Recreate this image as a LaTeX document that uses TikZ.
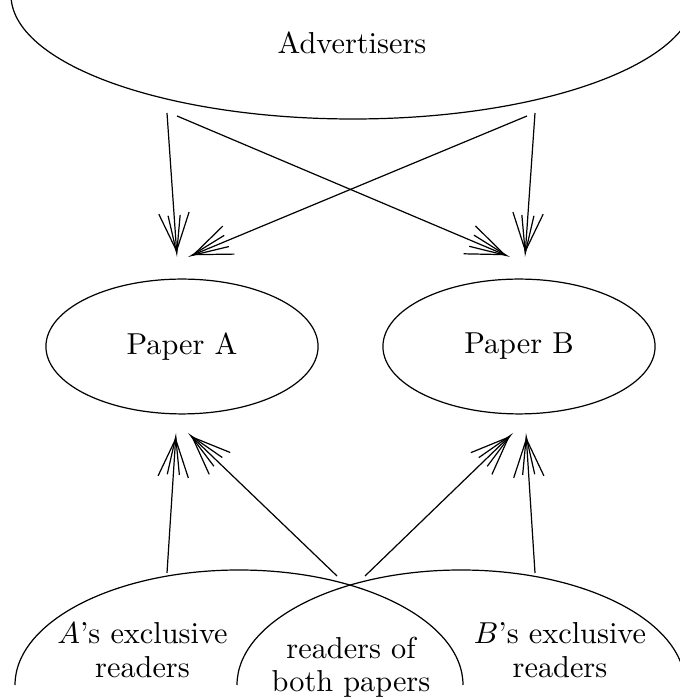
\documentclass[tikz,border=0pt]{standalone}
\usetikzlibrary{arrows.meta,shapes.geometric}

\begin{document}
\begin{tikzpicture}[x=0.33pt,y=0.33pt,
    paper/.style={draw,ellipse,minimum width=89.8pt,minimum height=44.5pt,inner sep=0pt},
    group/.style={align=center,inner sep=0pt},
    fan/.style={-{Straight Barb[length=12.5pt,width=10pt,sep=-12.5pt]Straight Barb[length=12.5pt,width=4pt]}}]
    \useasboundingbox (0,0) rectangle (680,698);
    \clip (0,0) rectangle (680,698);
    % advertisers
    \draw (11,703) arc[start angle=180,end angle=360,x radius=342,y radius=124];
    \node (adv) at (352,655) {Advertisers};
    % papers
    \node[paper] (pa) at (182,351.5) {Paper A};
    \node[paper] (pb) at (519,351.5) {Paper B};
    % readers
    \draw (463,13) arc[start angle=0,end angle=180,x radius=224,y radius=115];
    \draw (685,13) arc[start angle=0,end angle=180,x radius=224,y radius=115];
    \node[group] (ra) at (142.5,48) {$A$'s exclusive\\[-1pt]readers};
    \node[group] (rab) at (351,31) {readers of\\[-1pt]both papers};
    \node[group] (rb) at (560,48) {$B$'s exclusive\\[-1pt]readers};
    % arrow ends
    \coordinate (adv-a) at (167,585);
    \coordinate (adv-b) at (177,582);
    \coordinate (adv-c) at (527,582);
    \coordinate (adv-d) at (535,585);
    \coordinate (pa-t1) at (177,441);
    \coordinate (pa-t2) at (188,441);
    \coordinate (pb-t1) at (510,441);
    \coordinate (pb-t2) at (525,441);
    \coordinate (pa-b1) at (176,265);
    \coordinate (pa-b2) at (188,265);
    \coordinate (pb-b1) at (513,265);
    \coordinate (pb-b2) at (526,265);
    \coordinate (ra-top) at (167,125);
    \coordinate (rab-l) at (337,122);
    \coordinate (rab-r) at (365,122);
    \coordinate (rb-top) at (535,125);
    \foreach \s/\t in {adv-a/pa-t1,adv-b/pb-t1,adv-c/pa-t2,adv-d/pb-t2,
                       ra-top/pa-b1,rab-l/pa-b2,rab-r/pb-b1,rb-top/pb-b2}
        \draw[fan] (\s) -- (\t);
\end{tikzpicture}
\end{document}
